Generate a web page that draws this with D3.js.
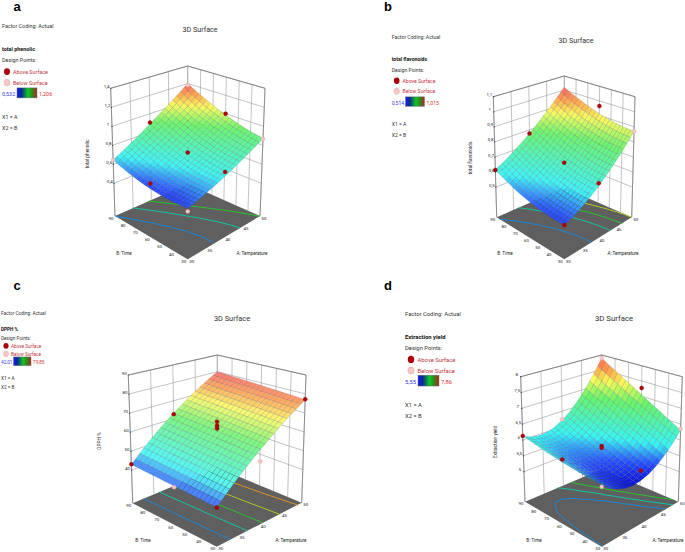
<!DOCTYPE html>
<html>
<head>
<meta charset="utf-8">
<script src="https://cdn.jsdelivr.net/npm/d3@7"></script>
<style>
  html, body { margin: 0; padding: 0; background: #fff; }
  svg { display: block; font-family: Roboto, "Noto Sans", sans-serif; }
</style>
</head>
<body>
<div id="chart"></div>
<script>
// factor levels of the surface tables (columns = A, rows = B)
const tempA = [30, 32, 34, 36, 38, 40, 42, 44, 46, 48, 50];
const timeB = [30, 36, 42, 48, 54, 60, 66, 72, 78, 84, 90];
const ticksA = [30, 35, 40, 45, 50];
const ticksB = [30, 40, 50, 60, 70, 80, 90];

// surface heights
const zPhenolic = [
  [.563,.581,.603,.627,.653,.683,.715,.751,.789,.829,.873],
  [.553,.574,.598,.624,.653,.686,.720,.758,.798,.842,.888],
  [.547,.571,.597,.626,.657,.692,.729,.769,.812,.858,.906],
  [.546,.571,.600,.631,.665,.702,.742,.785,.830,.878,.929],
  [.548,.576,.607,.641,.677,.717,.759,.804,.852,.902,.956],
  [.554,.585,.618,.654,.693,.735,.780,.827,.878,.931,.987],
  [.564,.597,.633,.672,.713,.758,.805,.855,.907,.963,1.021],
  [.578,.614,.652,.694,.737,.784,.834,.886,.941,.999,1.060],
  [.597,.635,.675,.719,.765,.815,.867,.921,.979,1.039,1.103],
  [.619,.659,.703,.749,.797,.849,.904,.961,1.021,1.084,1.149],
  [.645,.688,.734,.782,.833,.888,.944,1.004,1.067,1.132,1.200]
];
const zFlavonoids = [
  [.514,.530,.549,.574,.603,.636,.674,.716,.763,.814,.870],
  [.512,.529,.550,.575,.605,.638,.677,.719,.766,.818,.873],
  [.513,.531,.553,.579,.609,.643,.682,.725,.772,.823,.879],
  [.517,.535,.558,.585,.616,.651,.690,.733,.781,.832,.888],
  [.523,.543,.566,.594,.625,.661,.700,.744,.791,.843,.899],
  [.532,.552,.577,.605,.637,.673,.713,.757,.805,.857,.912],
  [.543,.565,.590,.619,.652,.689,.729,.773,.821,.873,.929],
  [.557,.580,.606,.636,.669,.707,.747,.792,.840,.892,.948],
  [.574,.597,.625,.655,.689,.727,.768,.813,.862,.914,.969],
  [.593,.618,.646,.677,.712,.750,.792,.837,.886,.938,.993],
  [.615,.641,.669,.702,.737,.776,.818,.864,.912,.965,1.020]
];
const zDpph = [
  [42.0,46.0,50.0,53.8,57.4,61.0,64.4,67.8,71.0,74.0,77.0],
  [42.1,46.2,50.1,53.9,57.6,61.2,64.7,68.0,71.2,74.3,77.3],
  [42.2,46.3,50.2,54.1,57.8,61.4,64.9,68.2,71.5,74.6,77.6],
  [42.3,46.4,50.4,54.2,58.0,61.6,65.1,68.5,71.7,74.9,77.9],
  [42.4,46.5,50.5,54.4,58.2,61.8,65.3,68.7,72.0,75.2,78.2],
  [42.5,46.6,50.7,54.6,58.3,62.0,65.5,68.9,72.3,75.4,78.5],
  [42.6,46.8,50.8,54.7,58.5,62.2,65.8,69.2,72.5,75.7,78.8],
  [42.7,46.9,50.9,54.9,58.7,62.4,66.0,69.4,72.8,76.0,79.1],
  [42.8,47.0,51.1,55.0,58.9,62.6,66.2,69.7,73.0,76.3,79.4],
  [42.9,47.1,51.2,55.2,59.1,62.8,66.4,69.9,73.3,76.6,79.7],
  [43.0,47.2,51.4,55.4,59.3,63.0,66.6,70.2,73.6,76.9,80.0]
];
const zYield = [
  [5.88,5.66,5.51,5.41,5.36,5.38,5.45,5.58,5.77,6.01,6.31],
  [5.89,5.68,5.53,5.44,5.41,5.44,5.53,5.67,5.87,6.13,6.45],
  [5.90,5.70,5.56,5.49,5.47,5.51,5.61,5.76,5.98,6.26,6.59],
  [5.91,5.72,5.60,5.53,5.53,5.58,5.69,5.86,6.10,6.39,6.74],
  [5.93,5.75,5.64,5.58,5.59,5.65,5.78,5.97,6.21,6.52,6.89],
  [5.95,5.79,5.68,5.64,5.66,5.73,5.87,6.08,6.34,6.66,7.05],
  [5.98,5.82,5.73,5.70,5.73,5.82,5.97,6.19,6.47,6.80,7.21],
  [6.01,5.86,5.78,5.76,5.80,5.91,6.07,6.30,6.60,6.95,7.37],
  [6.05,5.91,5.84,5.83,5.88,6.00,6.18,6.43,6.73,7.10,7.54],
  [6.09,5.96,5.90,5.90,5.97,6.10,6.29,6.55,6.87,7.26,7.71],
  [6.13,6.01,5.96,5.98,6.06,6.20,6.41,6.68,7.02,7.42,7.89]
];

// design points: [A, B, response, above surface?]
const ptsPhenolic = [
  [30,30,.532,0],[30,90,.645,0],[50,30,.867,0],[50,90,1.185,0],
  [30,60,.609,1],[40,90,.903,1],[50,60,1.0,1],[40,30,.728,1],[40,60,.757,1]
];
const ptsFlavonoids = [
  [30,30,.514,1],[30,90,.614,1],[50,30,.869,0],
  [40,90,.776,1],[50,60,.964,1],[40,60,.684,1],[40,30,.654,1]
];
const ptsDpph = [
  [30,30,42.0,1],[30,90,43.1,1],[50,30,77.2,1],
  [40,60,67.1,1],[40,60,65.0,1],[40,60,63.5,1],[40,90,62.5,1],
  [40,30,55.0,0],[30,60,41.8,0]
];
const ptsYield = [
  [30,30,5.83,0],[30,90,6.13,1],[50,30,6.35,0],[50,90,7.89,0],
  [30,60,6.03,1],[40,90,6.24,0],[50,60,7.27,1],[40,30,5.69,1],
  [40,60,5.92,1],[40,60,5.86,1]
];

// z axis ticks and floor contour levels
const ticksPhenolic = [.4, .6, .8, 1, 1.2, 1.4];
const ticksFlavonoids = [.5, .6, .7, .8, .9, 1, 1.1];
const ticksDpph = [40, 50, 60, 70, 80, 90];
const ticksYield = [5, 5.5, 6, 6.5, 7, 7.5, 8];
const levelsPhenolic = [.645, .76, .87];
const levelsFlavonoids = [.605, .71, .79, .87];
const levelsDpph = [48.5, 56, 62.5, 69, 75.5];
const levelsYield = [5.85, 6.1, 6.4];

const levelColors = ['#1d86d6', '#12c4a4', '#28c42c', '#b4c81e', '#e0941e'];

// layout of each panel: floor corners and top corners of the box, in page px
const panels = [
  { letter: 'a', letterPos: [17, 6], name: 'total phenolic', z: zPhenolic, pts: ptsPhenolic, zTicks: ticksPhenolic, levels: levelsPhenolic,
    zDomain: [.056, 1.4], colorDomain: [.5, 1.2], low: '0,532', high: '1,206', wash: .04,
    floor: { f: [187.7, 259.3], r: [260, 216], l: [115, 216], b: [187.7, 184] },
    top: { f: [187.7, 124], r: [265, 88.3], l: [110.7, 88.3], b: [187.7, 66] },
    title: [200, 29, 7.2], zTitle: [87, 154], bTitle: [124, 253], aTitle: [252, 253],
    legend: { x: 2, size: 5.4, factor: 28, name: 51, points: 62, above: 73.5, below: 84.5, bar: 96, x1: 119, x2: 130, mx: 7, tx: 13, barX: 17, barW: 20, hx: 39 } },
  { letter: 'b', letterPos: [388, 6], name: 'total flavonoids', z: zFlavonoids, pts: ptsFlavonoids, zTicks: ticksFlavonoids, levels: levelsFlavonoids,
    zDomain: [.3, 1.1], colorDomain: [.47, 1.02], low: '0,514', high: '1,015', wash: .04,
    floor: { f: [564.3, 259.3], r: [631.7, 217.3], l: [496.7, 217.3], b: [564.3, 187.7] },
    top: { f: [564.3, 131], r: [635, 96.7], l: [493.3, 96.7], b: [564.3, 76] },
    title: [576, 40, 7.2], zTitle: [470, 158], bTitle: [505, 253], aTitle: [623, 253],
    legend: { x: 391.7, size: 5.1, factor: 39, name: 61, points: 71.5, above: 82.5, below: 93, bar: 104.5, x1: 125.5, x2: 136.5, mx: 396.7, tx: 402.5, barX: 405.5, barW: 19, hx: 426.5 } },
  { letter: 'c', letterPos: [17, 285], name: 'DPPH %', z: zDpph, pts: ptsDpph, zTicks: ticksDpph, levels: levelsDpph,
    zDomain: [22.6, 90], colorDomain: [38, 80], low: '42,01', high: '79,85', wash: .15,
    floor: { f: [216.7, 546.7], r: [301.7, 502.7], l: [132.7, 503.3], b: [217.3, 467.7] },
    top: { f: [216.7, 410.3], r: [306, 375], l: [128.3, 375], b: [217.3, 355] },
    title: [232, 318, 7.4], zTitle: [99, 441], bTitle: [143, 540], aTitle: [291, 540],
    legend: { x: 1, size: 4.7, factor: 315, name: 331, points: 340, above: 347.5, below: 355.5, bar: 364, x1: 380, x2: 389, mx: 6, tx: 11, barX: 13.5, barW: 17.5, hx: 33 } },
  { letter: 'd', letterPos: [388, 285], name: 'Extraction yield', z: zYield, pts: ptsYield, zTicks: ticksYield, levels: levelsYield,
    zDomain: [4.05, 8], colorDomain: [5.36, 7.89], low: '5,55', high: '7,86', wash: 0,
    floor: { f: [601.7, 546.7], r: [678.3, 501.7], l: [525, 501.7], b: [601.7, 469.3] },
    top: { f: [601.7, 413.7], r: [682.3, 376.7], l: [520.7, 376.7], b: [601.7, 355] },
    title: [614, 318, 7.8], zTitle: [495, 442], bTitle: [534, 540], aTitle: [668, 540],
    legend: { x: 405, size: 5.85, factor: 316, name: 339, points: 350, above: 361.5, below: 372.5, bar: 384, x1: 407, x2: 418, mx: 411, tx: 417.5, barX: 418, barW: 21, hx: 441 } }
];

const ramp = d3.scaleLinear()
  .domain([0, .1, .24, .58, .76, .88, 1])
  .range(['#0a14d8', '#2850ff', '#38f4f4', '#68f468', '#fafa58', '#ffa048', '#fa5c5c'])
  .clamp(true);

const width = 685, height = 552;
const svg = d3.select('#chart').append('svg').attr('width', width).attr('height', height);
const defs = svg.append('defs');
const line = d3.line();

panels.forEach(drawPanel);

function drawPanel(p) {
  const g = svg.append('g');
  const x = d3.scaleLinear().domain([30, 50]).range([0, 1]);
  const y = d3.scaleLinear().domain([30, 90]).range([0, 1]);
  const h = d3.scaleLinear().domain(p.zDomain).range([0, 1]);

  // project A, B, z through the eight box corners
  function mix(a, b, t) { return [a[0] + (b[0] - a[0]) * t, a[1] + (b[1] - a[1]) * t]; }
  function plane(c, u, v) { return mix(mix(c.f, c.r, u), mix(c.l, c.b, u), v); }
  function proj(u, v, w) { return mix(plane(p.floor, u, v), plane(p.top, u, v), w); }

  const allZ = p.z.flat();
  const colorT = d3.scaleLinear().domain(p.colorDomain).range([0, 1]);
  const fillOf = z => d3.interpolateRgb(ramp(colorT(z)), '#fff')(p.wash);

  // walls
  const gridSegs = [];
  ticksA.forEach(a => gridSegs.push([proj(x(a), 1, 0), proj(x(a), 1, 1)]));
  ticksB.forEach(b => gridSegs.push([proj(1, y(b), 0), proj(1, y(b), 1)]));
  p.zTicks.forEach(t => {
    gridSegs.push([proj(0, 1, h(t)), proj(1, 1, h(t))]);
    gridSegs.push([proj(1, 1, h(t)), proj(1, 0, h(t))]);
  });
  g.append('g').selectAll('path').data(gridSegs).join('path')
    .attr('d', line).attr('stroke', '#9a9a9a').attr('stroke-width', .6).attr('fill', 'none');

  g.append('path')
    .attr('d', line([proj(0, 1, 1), proj(1, 1, 1), proj(1, 0, 1)]))
    .attr('stroke', '#666').attr('stroke-width', .7).attr('fill', 'none');
  g.append('path')
    .attr('d', line([proj(0, 1, 0), proj(0, 1, 1)]))
    .attr('stroke', '#777').attr('stroke-width', .7).attr('fill', 'none');
  g.append('path')
    .attr('d', line([proj(1, 0, 0), proj(1, 0, 1)]))
    .attr('stroke', '#777').attr('stroke-width', .7).attr('fill', 'none');

  // z tick dots on the left corner
  g.append('g').selectAll('circle').data(p.zTicks).join('circle')
    .attr('cx', t => proj(0, 1, h(t))[0])
    .attr('cy', t => proj(0, 1, h(t))[1])
    .attr('r', .6).attr('fill', '#333');

  // floor
  g.append('path')
    .attr('d', line([p.floor.f, p.floor.r, p.floor.b, p.floor.l]) + 'Z')
    .attr('fill', '#5f5f5f');

  // contours on the floor, without the runs along the floor border
  const nA = tempA.length, nB = timeB.length;
  const contourGen = d3.contours().size([nA, nB]).smooth(true).thresholds(p.levels);
  contourGen(allZ).forEach((c, i) => {
    const paths = [];
    c.coordinates.forEach(poly => poly.forEach(ring => {
      const uv = ring.map(q => [
        Math.min(1, Math.max(0, (q[0] - .5) / (nA - 1))),
        Math.min(1, Math.max(0, (q[1] - .5) / (nB - 1)))
      ]);
      const onEdge = q => q[0] <= 0 || q[0] >= 1 || q[1] <= 0 || q[1] >= 1;
      let cur = [];
      uv.forEach((q, j) => {
        if (j > 0 && onEdge(q) && onEdge(uv[j - 1])) {
          if (cur.length > 1) paths.push(cur);
          cur = [];
        }
        cur.push(proj(q[0], q[1], 0));
      });
      if (cur.length > 1) paths.push(cur);
    }));
    g.append('g').selectAll('path').data(paths).join('path')
      .attr('d', line).attr('fill', 'none')
      .attr('stroke', levelColors[i]).attr('stroke-width', 1);
  });

  // surface, back corner first; every table cell is shaded in 2 x 2 facets
  const zAt = (i, j) => p.z[j][i];
  const surf = g.append('g');
  for (let j = nB - 2; j >= 0; j--) {
    for (let i = nA - 2; i >= 0; i--) {
      for (let sj = 1; sj >= 0; sj--) {
        for (let si = 1; si >= 0; si--) {
          const corner = (a, b) => {
            const s = (si + a) / 2, t = (sj + b) / 2;
            const z = (zAt(i, j) * (1 - s) + zAt(i + 1, j) * s) * (1 - t) +
                      (zAt(i, j + 1) * (1 - s) + zAt(i + 1, j + 1) * s) * t;
            return { z: z, pt: proj(x(tempA[i] + (tempA[i + 1] - tempA[i]) * s), y(timeB[j] + (timeB[j + 1] - timeB[j]) * t), h(z)) };
          };
          const q = [corner(0, 0), corner(1, 0), corner(1, 1), corner(0, 1)];
          surf.append('path')
            .attr('d', line(q.map(d => d.pt)) + 'Z')
            .attr('fill', fillOf(d3.mean(q, d => d.z)))
            .attr('stroke', '#222a48')
            .attr('stroke-opacity', .4)
            .attr('stroke-width', .35);
        }
      }
    }
  }

  // design points
  g.append('g').selectAll('circle').data(p.pts).join('circle')
    .attr('cx', d => proj(x(d[0]), y(d[1]), h(d[2]))[0])
    .attr('cy', d => proj(x(d[0]), y(d[1]), h(d[2]))[1])
    .attr('r', 2)
    .attr('fill', d => d[3] ? '#b00008' : '#f9c6c6')
    .attr('stroke', d => d[3] ? '#8a0006' : '#e0a0a0')
    .attr('stroke-width', .4);

  // tick labels
  const tickText = (pos, txt) => g.append('text')
    .attr('x', pos[0]).attr('y', pos[1])
    .attr('text-anchor', 'middle').attr('dominant-baseline', 'central')
    .attr('font-size', 4.4).attr('fill', '#222').text(txt);
  ticksA.forEach(a => {
    const q = proj(x(a), 0, 0);
    tickText([q[0] + 4, q[1] + 2], a);
  });
  ticksB.forEach(b => {
    const q = proj(0, y(b), 0);
    tickText([q[0] - 4, q[1] + 2], b);
  });
  p.zTicks.forEach(t => {
    const q = proj(0, 1, h(t));
    tickText([q[0] - 4, q[1] - 2], String(t).replace('.', ','));
  });

  // titles
  g.append('text').attr('x', p.title[0]).attr('y', p.title[1]).attr('dy', '.35em')
    .attr('text-anchor', 'middle').attr('font-size', p.title[2]).attr('fill', '#333').text('3D Surface');
  g.append('text').attr('x', p.letterPos[0]).attr('y', p.letterPos[1]).attr('dy', '.35em')
    .attr('text-anchor', 'middle').attr('font-size', 13).attr('font-weight', 'bold')
    .attr('font-family', '"Liberation Sans", sans-serif').attr('fill', '#000').text(p.letter);
  g.append('text').attr('transform', `translate(${p.zTitle[0]},${p.zTitle[1]}) rotate(-90)`)
    .attr('text-anchor', 'middle').attr('dy', '.35em').attr('font-size', 4.8).attr('fill', '#222').text(p.name);
  g.append('text').attr('x', p.bTitle[0]).attr('y', p.bTitle[1]).attr('dy', '.35em')
    .attr('text-anchor', 'middle').attr('font-size', 4.6).attr('fill', '#222').text('B: Time');
  g.append('text').attr('x', p.aTitle[0]).attr('y', p.aTitle[1]).attr('dy', '.35em')
    .attr('text-anchor', 'middle').attr('font-size', 4.6).attr('fill', '#222').text('A: Temperature');

  drawLegend(g, p);
}

function drawLegend(g, p) {
  const l = p.legend;
  const txt = (tx, ty, s, fill, weight) => g.append('text')
    .attr('x', tx).attr('y', ty).attr('font-size', l.size)
    .attr('font-weight', weight || 'normal').attr('fill', fill).text(s);
  txt(l.x, l.factor, 'Factor Coding: Actual', '#333');
  txt(l.x, l.name, p.name, '#111', 'bold');
  txt(l.x, l.points, 'Design Points:', '#333');
  txt(l.tx, l.above, 'Above Surface', '#c4323e');
  txt(l.tx, l.below, 'Below Surface', '#c4323e');
  g.append('ellipse').attr('cx', l.mx).attr('cy', l.above - l.size * .35)
    .attr('rx', l.size * .55).attr('ry', l.size * .62).attr('fill', '#a80006');
  g.append('ellipse').attr('cx', l.mx).attr('cy', l.below - l.size * .35)
    .attr('rx', l.size * .55).attr('ry', l.size * .62).attr('fill', '#f9c6c6').attr('stroke', '#d8a0a0').attr('stroke-width', .4);
  txt(l.x, l.bar, p.low, '#3a3ae0');
  txt(l.hx, l.bar, p.high, '#e03030');

  const id = 'bar-' + p.letter;
  const grad = defs.append('linearGradient').attr('id', id);
  [[0, '#1c1cff'], [.22, '#0a2a90'], [.55, '#10c820'], [.75, '#2a8a20'], [1, '#b02818']].forEach(s => {
    grad.append('stop').attr('offset', s[0]).attr('stop-color', s[1]);
  });
  g.append('rect').attr('x', l.barX).attr('y', l.bar - l.size * 1.5)
    .attr('width', l.barW).attr('height', l.size * 1.85)
    .attr('fill', `url(#${id})`).attr('stroke', '#667').attr('stroke-width', .4);
  txt(l.x, l.x1, 'X1 = A', '#333');
  txt(l.x, l.x2, 'X2 = B', '#333');
}
</script>
</body>
</html>
